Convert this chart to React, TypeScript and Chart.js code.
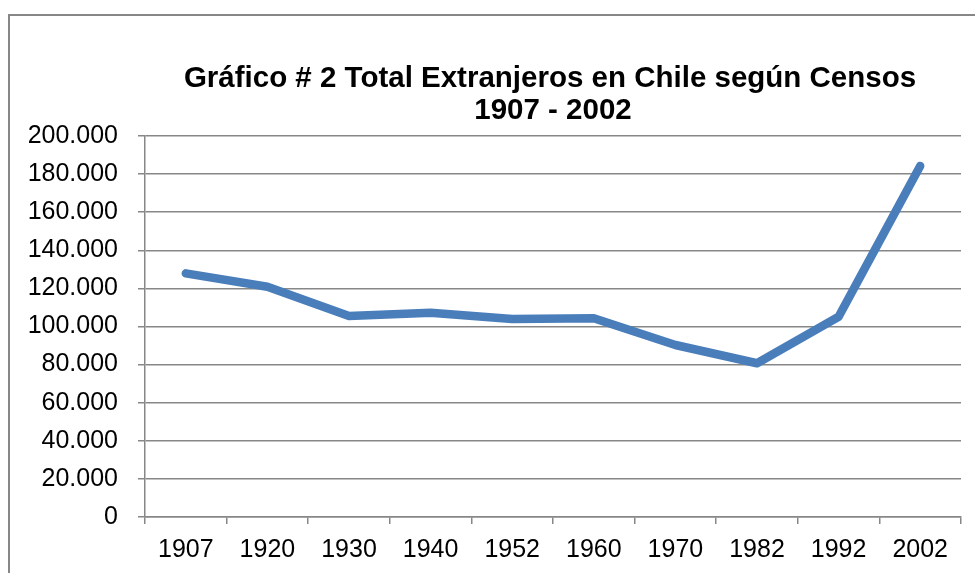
import React, { useEffect, useRef } from "react";
import { Chart, registerables } from "chart.js";

Chart.register(...registerables);

const censusYears = ["1907", "1920", "1930", "1940", "1952", "1960", "1970", "1982", "1992", "2002"];
const foreignersTotal = [127900, 120900, 105500, 107200, 103900, 104300, 90300, 80700, 105100, 184300];
const titleLines = ["Gráfico # 2 Total Extranjeros en Chile según Censos", "1907 - 2002"];
const yMin = 0;
const yMax = 200000;
const yStep = 20000;

const FONT = "'Liberation Sans', Arial, sans-serif";

function fmt(v: number): string {
  return String(Math.round(v)).replace(/\B(?=(\d{3})+(?!\d))/g, ".");
}

const framePlugin = {
  id: "frameAndTitle",
  beforeDraw(chart: any) {
    const ctx = chart.ctx;
    ctx.save();
    ctx.fillStyle = "#ffffff";
    ctx.fillRect(0, 0, chart.width, chart.height);
    ctx.strokeStyle = "#878787";
    ctx.lineWidth = 2;
    ctx.strokeRect(9, 15, chart.width + 20, chart.height + 20);
    ctx.restore();
  },
  afterDraw(chart: any) {
    const ctx = chart.ctx;
    const area = chart.chartArea;
    const cx = (area.left + area.right) / 2 - 2;
    ctx.save();
    ctx.fillStyle = "#000000";
    ctx.font = `bold 29.5px ${FONT}`;
    ctx.textAlign = "center";
    ctx.textBaseline = "alphabetic";
    ctx.fillText(titleLines[0], cx - 1, 87);
    ctx.fillText(titleLines[1], cx + 2, 118.5);
    ctx.restore();
  },
};

export default function App() {
  const ref = useRef<HTMLCanvasElement | null>(null);

  useEffect(() => {
    if (!ref.current) return;
    const chart = new Chart(ref.current, {
      type: "line",
      data: {
        labels: censusYears,
        datasets: [
          {
            data: foreignersTotal,
            borderColor: "#4A7EBB",
            backgroundColor: "#4A7EBB",
            borderWidth: 8.5,
            borderCapStyle: "round",
            borderJoinStyle: "round",
            pointRadius: 0,
            tension: 0,
            fill: false,
          },
        ],
      },
      options: {
        responsive: false,
        animation: false,
        devicePixelRatio: 1,
        layout: { padding: { left: 0, right: 14, top: 136, bottom: 0 } },
        plugins: {
          legend: { display: false },
          title: { display: false },
          tooltip: { enabled: false },
        },
        scales: {
          x: {
            type: "category",
            offset: true,
            grid: {
              offset: true,
              drawOnChartArea: false,
              drawTicks: true,
              tickLength: 7,
              color: "#878787",
              lineWidth: 1.5,
            },
            border: { display: true, color: "#878787", width: 1.5 },
            ticks: {
              color: "#000000",
              font: { family: FONT, size: 25 },
              padding: 11,
              maxRotation: 0,
              autoSkip: false,
            },
            afterFit(scale: any) {
              scale.height = 56;
            },
          },
          y: {
            min: yMin,
            max: yMax,
            grid: {
              drawTicks: true,
              tickLength: 7,
              color: "#878787",
              lineWidth: 1.5,
            },
            border: { display: true, color: "#878787", width: 1.5 },
            ticks: {
              stepSize: yStep,
              color: "#000000",
              font: { family: FONT, size: 25 },
              padding: 20,
              callback: (v: any) => fmt(Number(v)),
            },
            afterFit(scale: any) {
              scale.width = 145;
            },
          },
        },
      },
      plugins: [framePlugin],
    });
    return () => chart.destroy();
  }, []);

  return (
    <div style={{ position: "absolute", left: 0, top: 0, width: 975, height: 573, overflow: "hidden" }}>
      <canvas ref={ref} width={975} height={573} style={{ display: "block" }} />
    </div>
  );
}
